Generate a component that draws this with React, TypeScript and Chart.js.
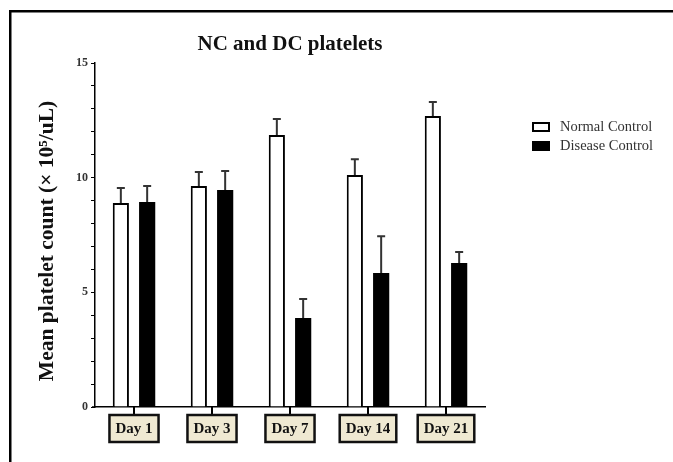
import React, { useEffect, useRef } from "react";
import { Chart, registerables } from "chart.js";
Chart.register(...registerables);

const categories = ["Day 1", "Day 3", "Day 7", "Day 14", "Day 21"];
const normalControl = [8.9, 9.64, 11.86, 10.12, 12.69];
const normalControlErr = [0.65, 0.61, 0.7, 0.68, 0.61];
const diseaseControl = [8.94, 9.46, 3.88, 5.84, 6.28];
const diseaseControlErr = [0.7, 0.83, 0.83, 1.61, 0.48];
const yTickLabels = [0, 5, 10, 15];
const titleText = "NC and DC platelets";
const yTitleText = "Mean platelet count (\u00d7 10\u2075/uL)";
const seriesNames = ["Normal Control", "Disease Control"];

const SERIF = "'Liberation Serif', 'Times New Roman', serif";

const decorPlugin = {
  id: "decor",
  afterDatasetsDraw(chart: any) {
    const ctx = chart.ctx;
    const ys = chart.scales.y;
    const xs = chart.scales.x;
    const ca = chart.chartArea;
    ctx.save();
    // extend x axis line slightly left
    ctx.strokeStyle = "#000";
    ctx.lineWidth = 1.5;
    ctx.beginPath();
    ctx.moveTo(ca.left - 3, ca.bottom);
    ctx.lineTo(ca.left, ca.bottom);
    ctx.stroke();
    // error bars
    const errs = [normalControlErr, diseaseControlErr];
    chart.data.datasets.forEach((ds: any, di: number) => {
      const meta = chart.getDatasetMeta(di);
      meta.data.forEach((bar: any, i: number) => {
        const v = ds.data[i];
        const yTop = ys.getPixelForValue(v + errs[di][i]);
        const yBar = ys.getPixelForValue(v);
        ctx.strokeStyle = "#333";
        ctx.lineWidth = 2;
        ctx.beginPath();
        ctx.moveTo(bar.x, yBar);
        ctx.lineTo(bar.x, yTop);
        ctx.moveTo(bar.x - 4, yTop);
        ctx.lineTo(bar.x + 4, yTop);
        ctx.stroke();
      });
    });
    // x category boxes
    ctx.font = "bold 15px " + SERIF;
    ctx.textAlign = "center";
    ctx.textBaseline = "middle";
    categories.forEach((c, i) => {
      const x = xs.getPixelForValue(i);
      ctx.strokeStyle = "#000";
      ctx.lineWidth = 2;
      ctx.beginPath();
      ctx.moveTo(x, ca.bottom);
      ctx.lineTo(x, ca.bottom + 7);
      ctx.stroke();
      const w = ctx.measureText(c).width + 12;
      const bx = x - w / 2;
      const by = ca.bottom + 8;
      ctx.fillStyle = "#efe9d2";
      ctx.fillRect(bx, by, w, 27);
      ctx.lineWidth = 2.5;
      ctx.strokeStyle = "#111";
      ctx.strokeRect(bx, by, w, 27);
      ctx.fillStyle = "#111";
      ctx.fillText(c, x, by + 14);
    });
    // title
    ctx.font = "bold 21px " + SERIF;
    ctx.fillStyle = "#111";
    ctx.fillText(titleText, (ca.left + ca.right) / 2, 45);
    // y title
    ctx.save();
    ctx.translate(47, (ca.top + ca.bottom) / 2 + 6);
    ctx.rotate(-Math.PI / 2);
    ctx.font = "bold 21.5px " + SERIF;
    ctx.fillText(yTitleText, 0, 0);
    ctx.restore();
    // legend
    ctx.textAlign = "left";
    ctx.font = "14.5px " + SERIF;
    const ly = [127, 146];
    seriesNames.forEach((n, i) => {
      if (i === 0) {
        ctx.fillStyle = "#fff";
        ctx.fillRect(533, ly[i] - 4, 16, 8);
        ctx.strokeStyle = "#000";
        ctx.lineWidth = 2;
        ctx.strokeRect(533, ly[i] - 4, 16, 8);
      } else {
        ctx.fillStyle = "#000";
        ctx.fillRect(532, ly[i] - 5, 18, 10);
      }
      ctx.fillStyle = "#333";
      ctx.fillText(n, 560, ly[i]);
    });
    // frame
    ctx.fillStyle = "#000";
    ctx.fillRect(9, 10, chart.width - 9, 2.5);
    ctx.fillRect(9, 10, 2.5, chart.height - 10);
    ctx.restore();
  },
};

export default function App() {
  const ref = useRef<HTMLCanvasElement>(null);
  useEffect(() => {
    if (!ref.current) return;
    const chart = new Chart(ref.current, {
      type: "bar",
      data: {
        labels: categories,
        datasets: [
          {
            label: seriesNames[0],
            data: normalControl,
            backgroundColor: "#fff",
            borderColor: "#000",
            borderWidth: 2,
            borderSkipped: "start",
          },
          {
            label: seriesNames[1],
            data: diseaseControl,
            backgroundColor: "#000",
            borderColor: "#000",
            borderWidth: 0,
          },
        ],
      },
      options: {
        animation: false,
        responsive: false,
        devicePixelRatio: 1,
        categoryPercentage: 0.675,
        barPercentage: 0.615,
        layout: { padding: { top: 63, right: 188, left: 0, bottom: 0 } },
        plugins: { legend: { display: false }, title: { display: false }, tooltip: { enabled: false } },
        scales: {
          x: {
            offset: true,
            grid: { display: false },
            border: { display: true, color: "#000", width: 1.5 },
            ticks: { display: false },
            afterFit(s: any) {
              s.height = 55;
            },
          },
          y: {
            min: 0,
            max: 15,
            grid: { drawOnChartArea: false, drawTicks: true, tickLength: 4, color: "#000", lineWidth: 1 },
            border: { display: true, color: "#000", width: 1.5 },
            ticks: {
              stepSize: 1,
              autoSkip: false,
              padding: 3,
              color: "#333",
              font: { family: SERIF, size: 12, weight: "bold" },
              callback: (v: any) => (yTickLabels.includes(Number(v)) ? String(v) : ""),
            },
            afterFit(s: any) {
              s.width = 95;
            },
          },
        },
      },
      plugins: [decorPlugin],
    } as any);
    return () => chart.destroy();
  }, []);
  return (
    <div style={{ position: "fixed", left: 0, top: 0, width: 673, height: 462, background: "#fff" }}>
      <canvas ref={ref} width={673} height={462} style={{ width: 673, height: 462 }} />
    </div>
  );
}
